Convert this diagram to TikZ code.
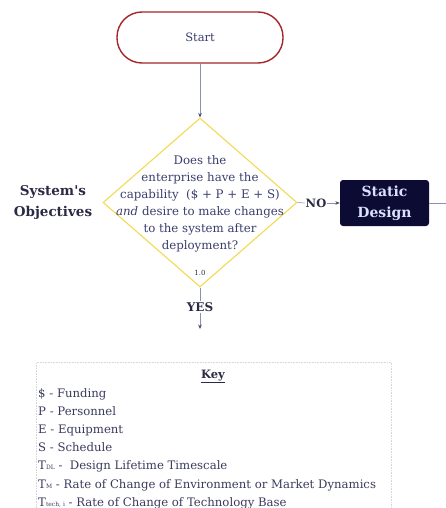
\documentclass[tikz,border=0pt]{standalone}
\usepackage{fontspec}
\setmainfont{DejaVu Serif}
\usetikzlibrary{arrows.meta,shapes.geometric}
\definecolor{linec}{HTML}{8A90B0}
\definecolor{tipc}{HTML}{4A4F6E}
\definecolor{startred}{HTML}{A3262A}
\definecolor{decision}{HTML}{F2DA50}
\definecolor{qtext}{HTML}{3A3E6C}
\definecolor{darktext}{HTML}{2A2A44}
\definecolor{navybox}{HTML}{0B0B33}
\definecolor{navytext}{HTML}{DCE0FF}
\definecolor{keytext}{HTML}{3A3B5C}
\definecolor{keyframe}{HTML}{D4D6E0}
\tikzset{
  connector/.style={draw=linec, line width=0.6pt},
  arrowed/.style={connector, -{Stealth[length=4.5pt,width=3.6pt,color=tipc]}},
  terminal/.style={draw=startred, line width=1.4pt, rounded corners=25pt,
    minimum width=166pt, minimum height=51pt, inner sep=0pt,
    text=qtext, font=\fontsize{11.5}{13}\selectfont},
  decisionbox/.style={diamond, draw=decision, line width=1.1pt,
    minimum width=194pt, minimum height=169pt, inner sep=0pt},
  qlabel/.style={align=center, text=qtext, inner sep=0pt,
    font=\fontsize{11.8}{17}\selectfont},
  branch/.style={text=darktext, inner sep=1pt, font=\bfseries\fontsize{11.5}{13}\selectfont},
  processbox/.style={fill=navybox, rounded corners=3pt, minimum width=89pt,
    minimum height=46pt, inner sep=0pt, align=center, text=navytext,
    font=\bfseries\fontsize{14}{21}\selectfont},
  sidelabel/.style={align=center, text=darktext, inner sep=0pt,
    font=\bfseries\fontsize{13.5}{21}\selectfont},
  keyframebox/.style={draw=keyframe, line width=0.6pt, densely dotted,
    minimum width=355pt, minimum height=150pt, inner sep=0pt},
  keyline/.style={anchor=base west, inner sep=0pt, text=keytext,
    font=\fontsize{11.7}{14}\selectfont}
}
\newcommand{\keysub}[1]{{\fontsize{6}{6}\selectfont #1}}
\begin{document}
\begin{tikzpicture}[x=1pt,y=-1pt]
\useasboundingbox (0,0) rectangle (446,508);

% start terminal
\node[terminal] (start) at (200,37.5) {Start};

% decision
\node[decisionbox] (q) at (200,202.5) {};
\node[qlabel] (qtxt) at (200,203.5) {Does the\\enterprise have the\\capability~~(\$ + P + E + S)\\\textit{and} desire to make changes\\to the system after\\deployment?};
\node[text=darktext, inner sep=0pt, font=\fontsize{7}{8}\selectfont] (qnum) at (200,273) {1.0};

\draw[arrowed] (start.south) -- (q.north);

% side heading
\node[sidelabel] (obj) at (53,202.5) {System\textquotesingle s\\Objectives};

% NO branch
\node[branch] (no) at (316,203) {NO};
\node[processbox] (static) at (384.5,203) {Static\\Design};
\coordinate (staticout) at (446,203);
\draw[connector] (q.east) -- (no.west);
\draw[arrowed] (no.east) -- (static.west);
\draw[connector] (static.east) -- (staticout);

% YES branch
\node[branch, font=\bfseries\fontsize{12}{14}\selectfont] (yes) at (200,307) {YES};
\coordinate (yesout) at (200,329);
\draw[connector] (q.south) -- (yes.north);
\draw[arrowed] (yes.south) -- (yesout);

% key
\node[keyframebox, anchor=north west] (keybox) at (36,362) {};
\node[text=darktext, inner sep=0pt, anchor=base, font=\bfseries\fontsize{11.5}{13}\selectfont] (keytitle) at (213,378) {\underline{Key}};
\node[keyline] (k1) at (38,397) {\$ - Funding};
\node[keyline] (k2) at (38,415.2) {P - Personnel};
\node[keyline] (k3) at (38,433.4) {E - Equipment};
\node[keyline] (k4) at (38,451.6) {S - Schedule};
\node[keyline] (k5) at (38,469.8) {T\keysub{DL} -~~Design Lifetime Timescale};
\node[keyline] (k6) at (38,488) {T\keysub{M} - Rate of Change of Environment or Market Dynamics};
\node[keyline] (k7) at (38,506.2) {T\keysub{tech, i} - Rate of Change of Technology Base};
\end{tikzpicture}
\end{document}
